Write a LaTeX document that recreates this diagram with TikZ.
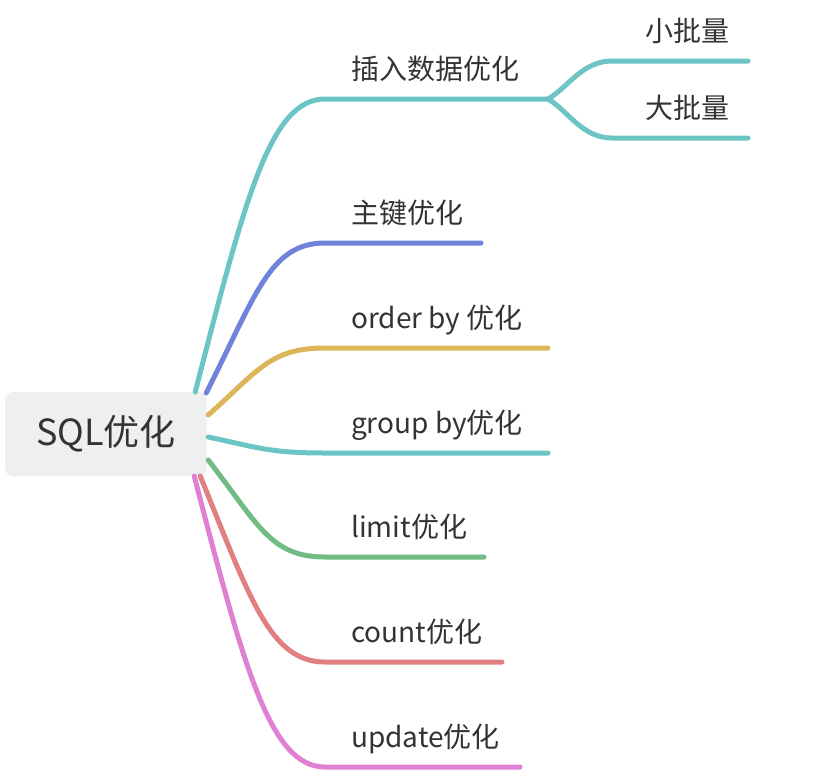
\documentclass[tikz,border=0pt]{standalone}
\usepackage{fontspec}
\newfontfamily\cjk{Noto Sans CJK SC}
\definecolor{tealA}{HTML}{6CC4C4}
\definecolor{blueA}{HTML}{6F83DB}
\definecolor{orangeA}{HTML}{DDB65A}
\definecolor{greenA}{HTML}{72BB84}
\definecolor{redA}{HTML}{E08080}
\definecolor{pinkA}{HTML}{DF80D4}
\definecolor{boxgray}{HTML}{EEF0EF}
\definecolor{textgray}{HTML}{333333}
\begin{document}
\begin{tikzpicture}[x=1pt, y=-1pt,
        branch/.style={line width=5pt, line cap=round},
        txt/.style={anchor=base west, inner sep=0pt, text=textgray, font=\cjk\fontsize{28}{34}\selectfont},
        rootbox/.style={fill=boxgray, rounded corners=8pt, minimum width=202pt, minimum height=84pt, text=textgray, font=\cjk\fontsize{36}{42}\selectfont}]
        \useasboundingbox (0,0) rectangle (828,772);

        % 中心ノード
        \node[rootbox] (root) at (106,434) {SQL优化};

        % 枝の描画
        \foreach \name/\dx/\dy/\ly/\ex/\col/\txt in {ins/-12/-42/99/548/tealA/插入数据优化, pk/-1/-41/243/481/blueA/主键优化, ord/1/-19/348/548/orangeA/order by 优化, grp/1/3/453/548/tealA/group by优化, lim/1/26/557/484/greenA/limit优化, cnt/-7/42/662/502/redA/count优化, upd/-13/42/767/520/pinkA/update优化}{
            \pgfmathsetmacro\cy{0.66*(\ly-434-\dy)}
            \coordinate (s\name) at ([shift={(\dx,\dy)}]root.east);
            \coordinate (m\name) at (325,\ly);
            \coordinate (e\name) at (\ex,\ly);
            \node[txt] (\name) at (351,\ly-20) {\txt};
            \draw[branch, \col] (s\name) .. controls +(50,\cy) and +(-55,0) .. (m\name) -- (e\name);
        }

        % 小枝
        \foreach \name/\ly/\txt in {small/61/小批量, large/138/大批量}{
            \pgfmathsetmacro\cy{0.3*(\ly-99)}
            \coordinate (m\name) at (612,\ly);
            \coordinate (e\name) at (748,\ly);
            \node[txt] (\name) at (645,\ly-20) {\txt};
            \draw[branch, tealA] (eins) .. controls +(20,\cy) and +(-30,0) .. (m\name) -- (e\name);
        }
\end{tikzpicture}
\end{document}
